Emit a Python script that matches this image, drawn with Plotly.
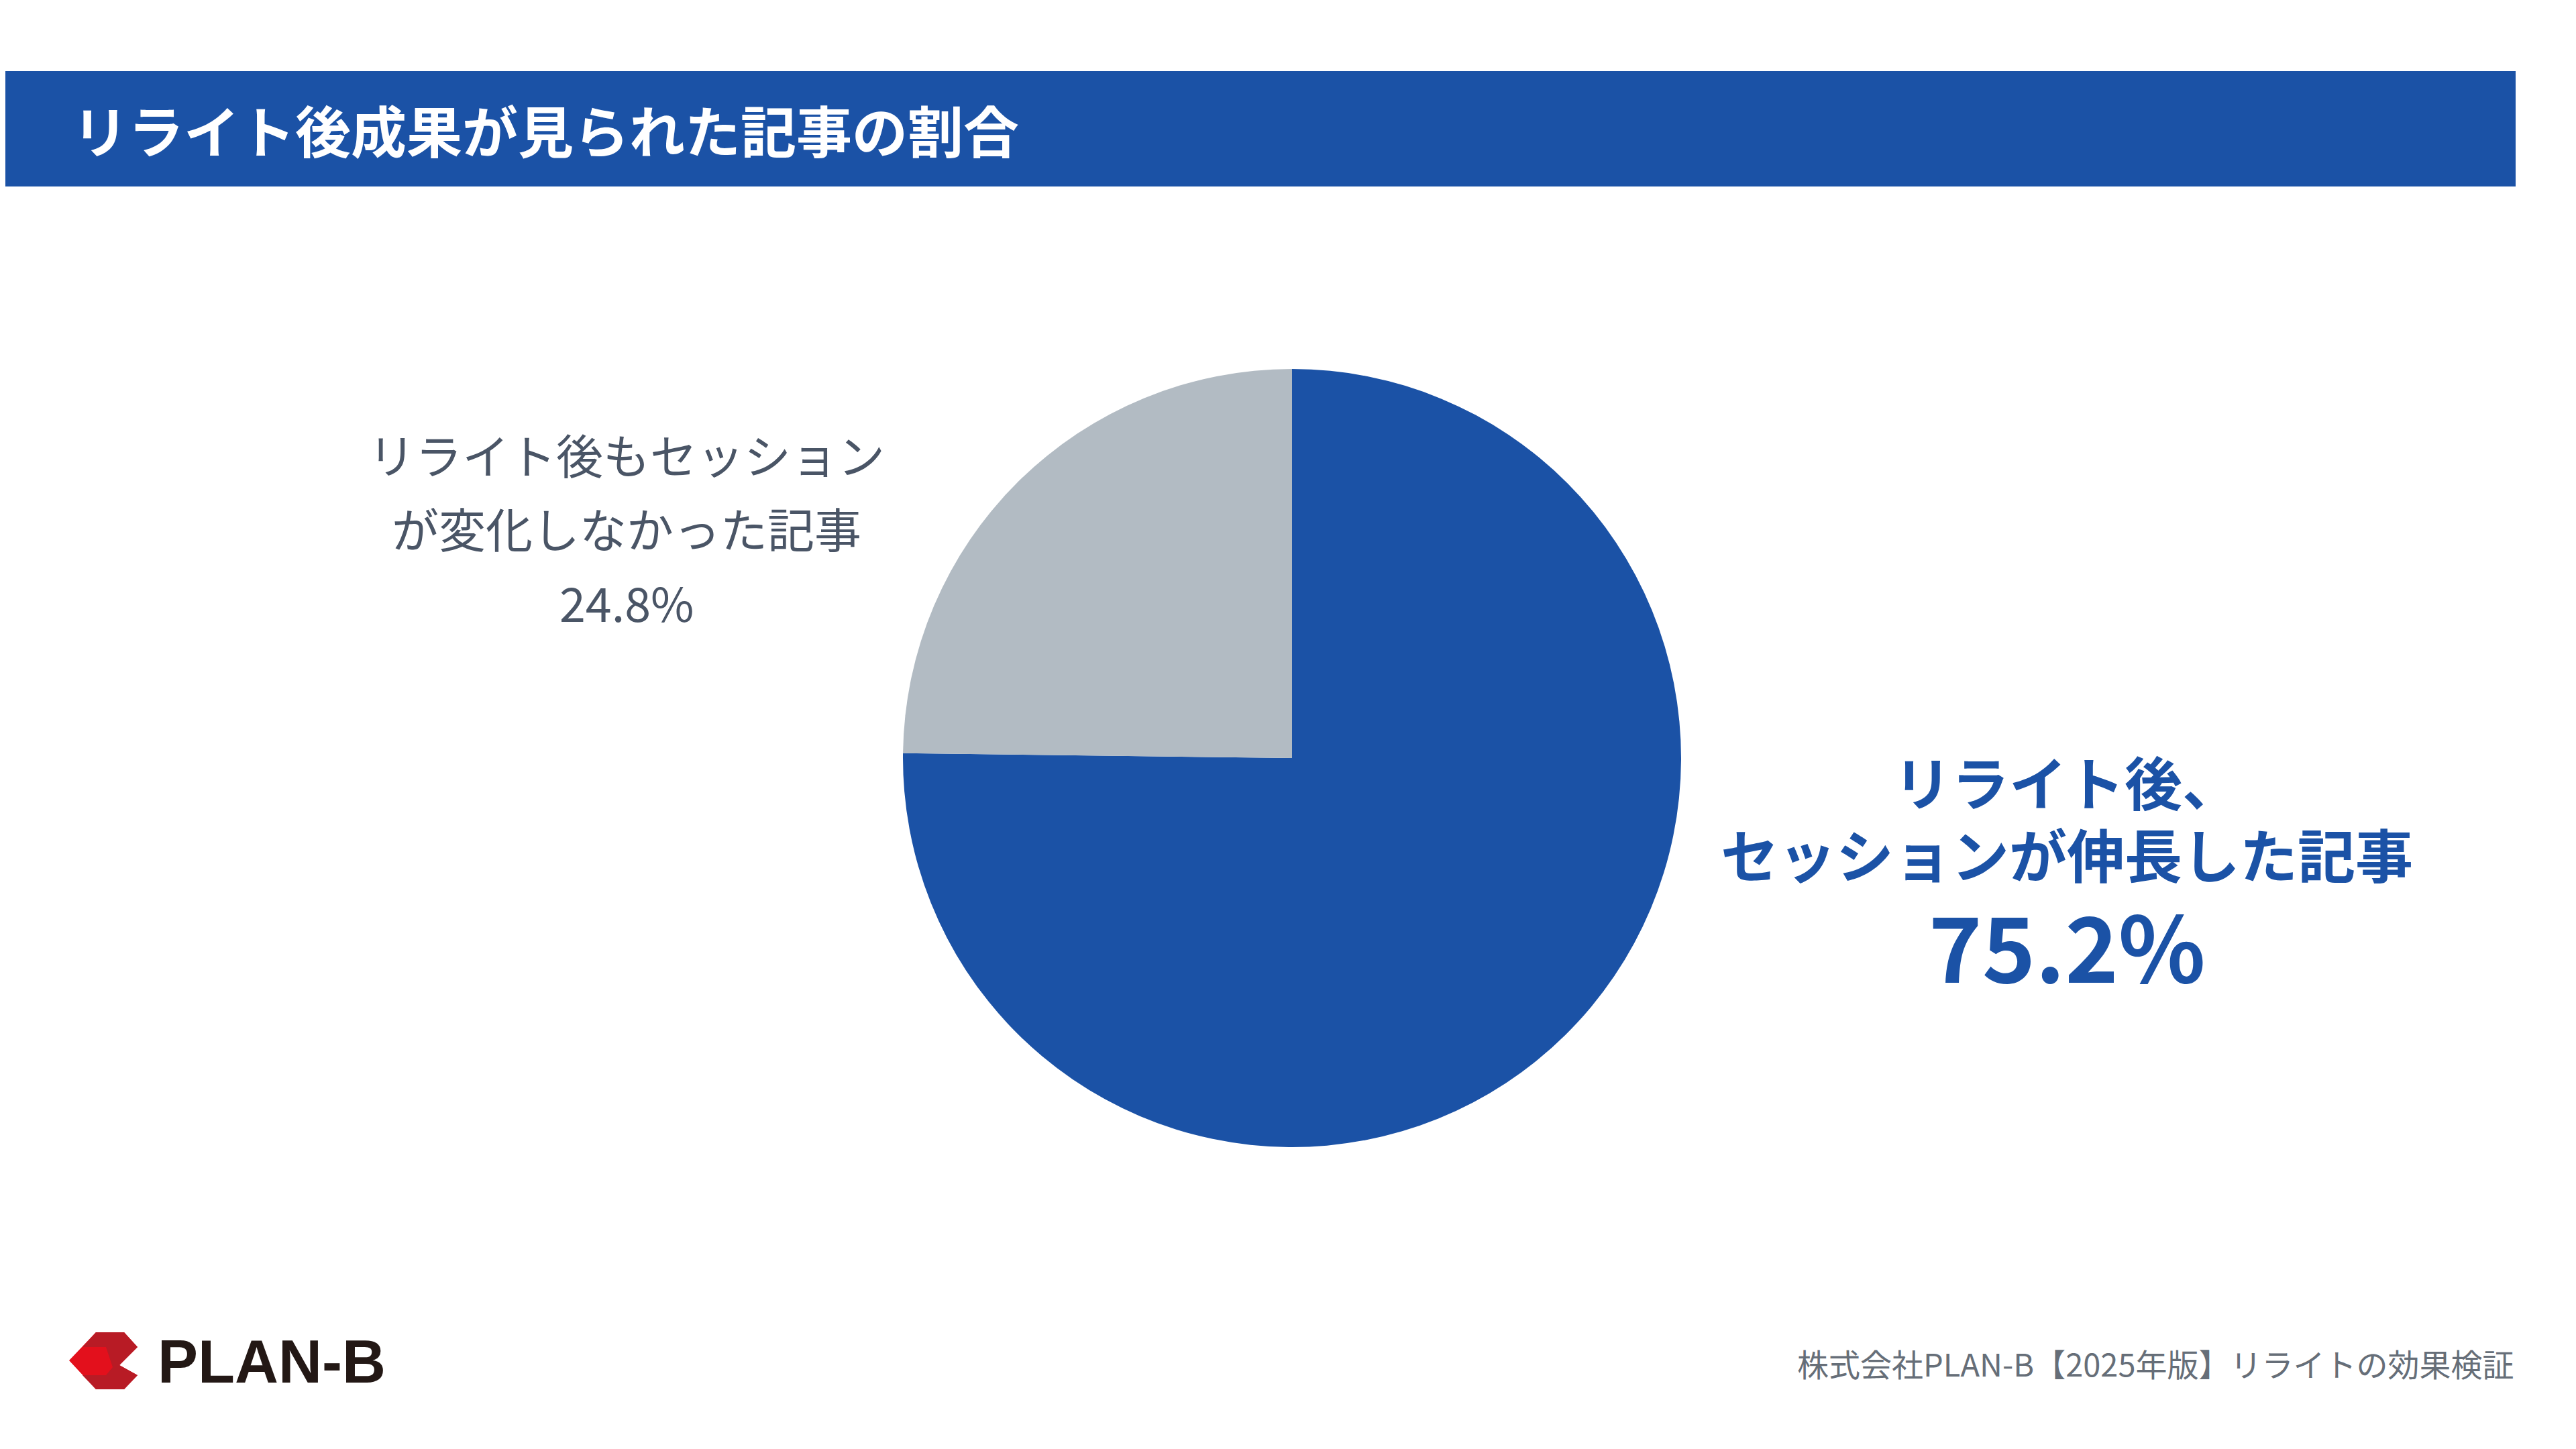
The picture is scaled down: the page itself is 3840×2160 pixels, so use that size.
import plotly.graph_objects as go

W, H = 3840, 2160

labels = ["リライト後、<br>セッションが伸長した記事", "リライト後もセッション<br>が変化しなかった記事"]
values = [75.2, 24.8]
colors = ["#1b52a6", "#b2bbc3"]
title = "リライト後成果が見られた記事の割合"
source = "株式会社PLAN-B【2025年版】リライトの効果検証"

FONT = "Noto Sans CJK JP"


def px(x):
    return x / W


def py(y):
    return 1 - y / H


fig = go.Figure()
fig.add_trace(go.Pie(
    labels=labels,
    values=values,
    marker=dict(colors=colors, line=dict(width=0)),
    sort=False,
    direction="clockwise",
    rotation=0,
    textinfo="none",
    hoverinfo="label+percent",
    showlegend=False,
    domain=dict(x=[px(1918 - 580), px(1918 + 580)], y=[py(1122 + 580), py(1122 - 580)]),
))

shapes = [
    dict(type="rect", xref="paper", yref="paper", x0=0, x1=px(3742), y0=py(270), y1=py(98),
         fillcolor="#1b52a6", line=dict(width=0), layer="below"),
]

# logo mark
logo = [(95, 2020), (135, 1978), (177, 1978), (197, 2000), (170, 2027), (197, 2042), (177, 2063), (135, 2063)]
path = "M " + " L ".join(f"{px(x)},{py(y)}" for x, y in logo) + " Z"
shapes.append(dict(type="path", xref="paper", yref="paper", path=path, fillcolor="#e3101c", line=dict(width=0)))
inner = [(115, 2000), (135, 1978), (177, 1978), (197, 2000), (170, 2027), (197, 2042), (177, 2063), (135, 2063), (115, 2042), (150, 2042), (160, 2030), (150, 2000)]
path2 = "M " + " L ".join(f"{px(x)},{py(y)}" for x, y in inner) + " Z"
shapes.append(dict(type="path", xref="paper", yref="paper", path=path2, fillcolor="#b81b25", line=dict(width=0)))

left_lines = labels[1].split("<br>") + [f"{values[1]}%"]
right_lines = labels[0].split("<br>")

ann = [
    dict(text=f"<b>{title}</b>", x=px(98), y=py(184), xanchor="left", yanchor="middle",
         font=dict(size=83, color="white", family=FONT)),
    dict(text=f"<b>{values[0]}%</b>", x=px(3073), y=py(1398), xanchor="center", yanchor="middle",
         font=dict(size=135, color="#1b52a6", family=FONT)),
    dict(text="<b>PLAN-B</b>", x=px(225), y=py(2022), xanchor="left", yanchor="middle",
         font=dict(size=90, color="#231815", family="Liberation Sans")),
    dict(text=source, x=px(3742), y=py(2023), xanchor="right", yanchor="middle",
         font=dict(size=47, color="#666e78", family=FONT)),
]
for i, t in enumerate(left_lines):
    ann.append(dict(text=t, x=px(926), y=py(668 + i * 110), xanchor="center", yanchor="middle",
                    font=dict(size=70, color="#4a5566", family=FONT)))
for i, t in enumerate(right_lines):
    ann.append(dict(text=f"<b>{t}</b>", x=px(3073), y=py(1155 + i * 108), xanchor="center", yanchor="middle",
                    font=dict(size=86, color="#1b52a6", family=FONT)))
for a in ann:
    a.update(xref="paper", yref="paper", showarrow=False)

fig.update_layout(
    width=W, height=H,
    margin=dict(l=0, r=0, t=0, b=0),
    paper_bgcolor="white", plot_bgcolor="white",
    shapes=shapes, annotations=ann,
)

fig.write_html("out.html")
